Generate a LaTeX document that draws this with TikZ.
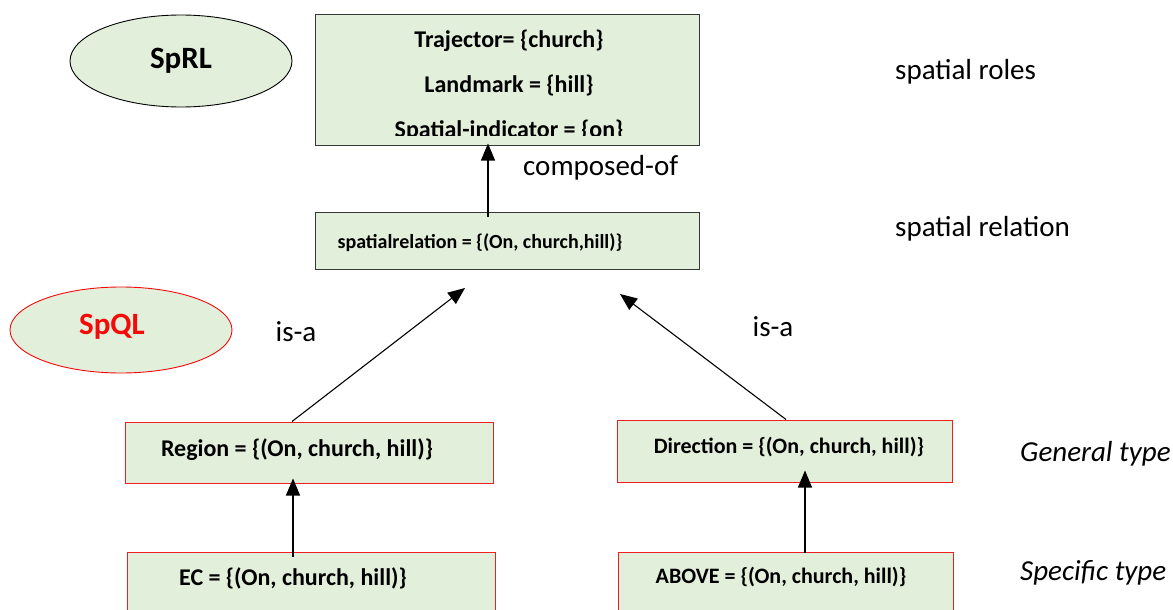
\documentclass[tikz,border=0pt]{standalone}
\usepackage{fontspec}
\setmainfont{Carlito}
\usetikzlibrary{arrows.meta,shapes.geometric}
\definecolor{boxfill}{RGB}{226,239,218}
\definecolor{boxred}{RGB}{240,30,30}
\definecolor{boxline}{RGB}{55,55,55}
\definecolor{qred}{RGB}{245,10,10}

\begin{document}
\begin{tikzpicture}[x=1pt,y=-1pt,
  box/.style={draw=boxline, fill=boxfill, line width=1pt, inner sep=0pt, rectangle},
  qbox/.style={box, draw=boxred},
  oval/.style={ellipse, draw=black, fill=boxfill, line width=0.9pt, inner sep=0pt},
  lbl/.style={font=\bfseries\fontsize{24}{28}\selectfont, inner sep=0pt, anchor=base},
  smalllbl/.style={lbl, font=\bfseries\fontsize{20}{24}\selectfont},
  midlbl/.style={lbl, font=\bfseries\fontsize{22}{26}\selectfont},
  tag/.style={font=\bfseries\fontsize{31}{36}\selectfont, inner sep=0pt},
  side/.style={font=\fontsize{29}{34}\selectfont, inner sep=0pt, anchor=west},
  conn/.style={line width=1.1pt, -{Triangle[width=14pt,length=17pt]}}]

\clip (0,0) rectangle (1173,610);

% ---- SpRL level ----
\node[oval, minimum width=222pt, minimum height=92pt] (sprl) at (181,61) {};
\node[tag] (sprlt) at (181,61) {SpRL};

\node[box, minimum width=384pt, minimum height=130pt] (roles) at (507,80) {};
\begin{scope}
  \clip (316,16) rectangle (698,135);
  \node[lbl] (traj) at (509,48) {Trajector= \{church\}};
  \node[lbl] (land) at (509,92.5) {Landmark = \{hill\}};
  \node[lbl] (ind)  at (509,137) {Spatial-indicator = \{on\}};
\end{scope}

\node[box, minimum width=384pt, minimum height=57pt] (rel) at (507,240.5) {};
\node[smalllbl] (relt) at (480,248) {spatialrelation = \{(On, church,hill)\}};

% ---- SpQL level ----
\node[oval, draw=qred, minimum width=222pt, minimum height=86pt] (spql) at (121,330) {};
\node[tag, text=qred] (spqlt) at (112,327) {SpQL};

\node[qbox, minimum width=368pt, minimum height=61pt] (region) at (309,452.5) {};
\node[lbl] (regiont) at (297,456) {Region = \{(On, church, hill)\}};

\node[qbox, minimum width=335pt, minimum height=62pt] (dir) at (784.5,451) {};
\node[midlbl] (dirt) at (789,453.5) {Direction = \{(On, church, hill)\}};

\node[qbox, minimum width=368pt, minimum height=80pt] (ec) at (311,592) {};
\node[lbl] (ect) at (293,585) {EC = \{(On, church, hill)\}};

\node[qbox, minimum width=335pt, minimum height=80pt] (above) at (785.5,592) {};
\node[midlbl] (abovet) at (781,583.5) {ABOVE = \{(On, church, hill)\}};

% ---- connectors ----
\coordinate (tipL) at (465,288);
\coordinate (tipR) at (620,294);
\draw[conn] ([xshift=-19pt,yshift=-5pt]rel.north) -- ([xshift=-19pt,yshift=2pt]roles.south);
\draw[conn] ([xshift=-17pt]region.north) -- (tipL);
\draw[conn] ([xshift=1.5pt]dir.north) -- (tipR);
\draw[conn] ([xshift=-18pt,yshift=-5pt]ec.north) -- ([xshift=-16pt,yshift=5pt]region.south);
\draw[conn] ([xshift=19.5pt,yshift=-1pt]above.north) -- ([xshift=20.5pt,yshift=12pt]dir.south);

% ---- labels ----
\node[side] (comp) at (523,168) {composed-of};
\node[side, anchor=center] (isaL) at (296,332) {is-a};
\node[side, anchor=center] (isaR) at (773,327) {is-a};
\node[side] (roleslbl) at (895,72) {spatial roles};
\node[side] (rellbl) at (895,229) {spatial relation};
\node[side, font=\itshape\fontsize{29}{34}\selectfont] (gen) at (1020,454) {General type};
\node[side, font=\itshape\fontsize{29}{34}\selectfont] (spec) at (1020,573) {Specific type};
\end{tikzpicture}
\end{document}
